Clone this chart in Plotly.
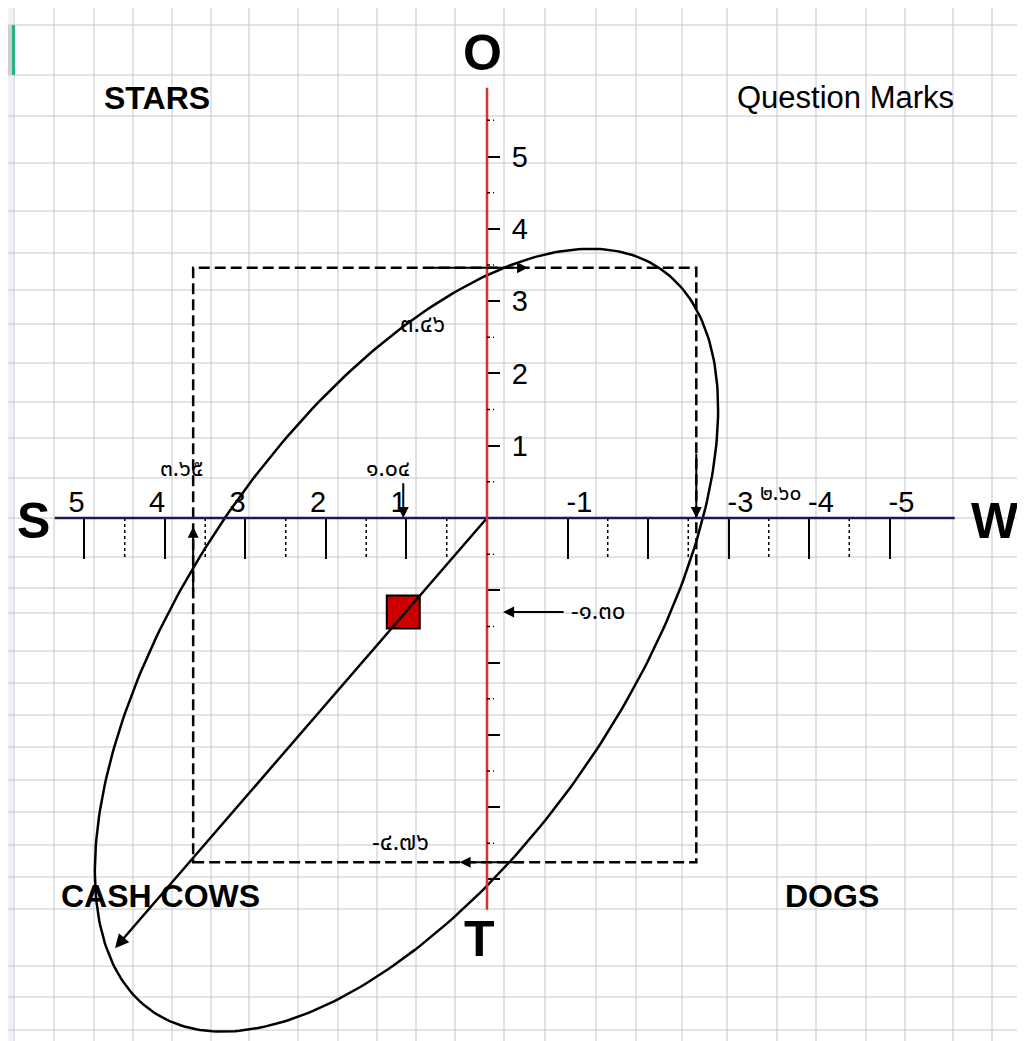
import numpy as np
import plotly.graph_objects as go

# scores: S/W along the horizontal axis, O/T along the vertical
s_score = 3.65
w_score = 2.60
o_score = 3.46
t_score = 4.76
pos_x = 1.04
pos_y = -1.30

x_ticks_left = [5, 4, 3, 2, 1]
x_ticks_right = [-1, -2, -3, -4, -5]
x_text_right = ["-1", "", "-3", "-4", "-5"]
y_ticks = [5, 4, 3, 2, 1, -1, -2, -3, -4, -5]
y_tick_text = ["5", "4", "3", "2", "1", "", "", "", "", ""]
x_minor = [4.5, 3.5, 2.5, 1.5, 0.5, -1.5, -2.5, -3.5, -4.5]
y_minor = [5.5, 4.5, 3.5, 2.5, 1.5, 0.5, -0.5, -1.5, -2.5, -3.5, -4.5]

quadrants = ["STARS", "Question Marks", "CASH COWS", "DOGS"]

# tilted ellipse round the position (centre, half-axis vectors)
ell_c = (1.0, -1.69)
ell_u = (-3.15, 5.14)
ell_v = (2.25, 1.70)

# the page body adds an 8px margin, so the figure is 8px smaller
OFF = 8
W, H = 1025 - OFF, 1041 - OFF
x_range = [5.95, -6.683]
y_range = [-7.234, 7.054]
FONT = "Liberation Sans, Arial, sans-serif"
THAI_FONT = "Tahoma, Noto Sans Thai, Loma, Garuda, DejaVu Sans, sans-serif"

# spreadsheet grid behind the drawing (page pixels)
grid_cols = [14, 54, 94, 133, 172, 211, 249, 298, 338, 377, 416, 455, 504, 545,
             596, 636, 682, 727, 777, 816, 866, 905, 953, 992]
grid_rows = [25, 75, 116, 163, 211, 253, 290, 324, 363, 402, 438, 478, 518, 557,
             588, 613, 651, 683, 715, 747, 780, 812, 845, 877, 909, 966, 997, 1030]

THAI = str.maketrans("0123456789", "๐๑๒๓๔๕๖๗๘๙")


def thai(v):
    return f"{v:.2f}".translate(THAI)


def px(c):
    return (c - OFF) / W


def py(r):
    return 1 - (r - OFF) / H


shapes = []
shapes.append(dict(type="rect", xref="paper", yref="paper", x0=0, x1=px(13), y0=0, y1=1,
                   fillcolor="#eef2f7", line_width=0, layer="below"))
for c in grid_cols:
    shapes.append(dict(type="line", xref="paper", yref="paper", x0=px(c), x1=px(c), y0=0, y1=1,
                       line=dict(color="#c3c8cf", width=1), layer="below"))
for r in grid_rows:
    shapes.append(dict(type="line", xref="paper", yref="paper", x0=0, x1=1, y0=py(r), y1=py(r),
                       line=dict(color="#c3c8cf", width=1), layer="below"))
shapes.append(dict(type="rect", xref="paper", yref="paper", x0=0, x1=px(12), y0=py(75), y1=py(25),
                   fillcolor="#cfcfcf", line_width=0, layer="below"))
shapes.append(dict(type="line", xref="paper", yref="paper", x0=px(13.5), x1=px(13.5), y0=py(75), y1=py(25),
                   line=dict(color="#22b583", width=3), layer="below"))

# dashed box spanning S, W, O, T
shapes.append(dict(type="rect", x0=s_score, x1=-w_score, y0=-t_score, y1=o_score,
                   line=dict(color="black", width=2.5, dash="11px,5px")))

# axis lines
shapes.append(dict(type="line", x0=5.37, x1=-5.81, y0=0, y1=0, line=dict(color="#1c1856", width=2.5)))
shapes.append(dict(type="line", x0=0, x1=0, y0=-5.42, y1=5.95, line=dict(color="#d93030", width=2.5)))

# dotted half-unit ticks
for v in x_minor:
    shapes.append(dict(type="line", xref="x", yref="y", ysizemode="pixel", yanchor=0,
                       x0=v, x1=v, y0=0, y1=-40, line=dict(color="black", width=1.5, dash="dot")))
for v in y_minor:
    shapes.append(dict(type="line", xref="x", yref="y", xsizemode="pixel", xanchor=0,
                       x0=0, x1=7, y0=v, y1=v, line=dict(color="black", width=1.5, dash="dot")))

t = np.linspace(0, 2 * np.pi, 361)
ex = ell_c[0] + ell_u[0] * np.cos(t) + ell_v[0] * np.sin(t)
ey = ell_c[1] + ell_u[1] * np.cos(t) + ell_v[1] * np.sin(t)

fig = go.Figure()
fig.add_trace(go.Scatter(x=ex, y=ey, mode="lines", line=dict(color="black", width=2.5),
                         hoverinfo="skip"))
fig.add_trace(go.Scatter(x=[pos_x], y=[pos_y], mode="markers",
                         marker=dict(symbol="square", size=33, color="#cc0000",
                                     line=dict(color="black", width=2)),
                         hoverinfo="skip"))
# carries the second x axis (labels on the W side)
fig.add_trace(go.Scatter(x=[pos_x], y=[pos_y], xaxis="x2", mode="markers",
                         marker=dict(opacity=0), hoverinfo="skip"))


def arrow(x0, y0, x1, y1, width=2):
    return dict(x=x1, y=y1, ax=x0, ay=y0, xref="x", yref="y", axref="x", ayref="y",
                text="", showarrow=True, arrowhead=2, arrowsize=1.1, arrowwidth=width,
                arrowcolor="black")


def label(txt, x, y, size, bold=False, xanchor="center", family=FONT):
    return dict(x=x, y=y, xref="x", yref="y", text=f"<b>{txt}</b>" if bold else txt,
                showarrow=False, xanchor=xanchor, yanchor="middle",
                font=dict(family=family, size=size, color="black"))


annotations = [
    arrow(0, 0, 4.62, -5.95, width=2.5),
    arrow(s_score, -1.13, s_score, -0.12),
    arrow(pos_x, 0.50, pos_x, 0.0),
    arrow(0.71, o_score, -0.51, o_score),
    arrow(-w_score, 0.91, -w_score, 0.0),
    arrow(-0.97, pos_y, -0.20, pos_y),
    arrow(-0.47, -t_score, 0.34, -t_score),
    label(thai(s_score), 3.79, 0.68, 23, family=THAI_FONT),
    label(thai(pos_x), 1.23, 0.68, 23, family=THAI_FONT),
    label(thai(o_score), 0.80, 2.67, 24, family=THAI_FONT),
    label(thai(w_score), -3.65, 0.34, 21, family=THAI_FONT),
    label(thai(pos_y), -1.02, pos_y, 24, xanchor="left", family=THAI_FONT),
    label(thai(-t_score), 1.08, -4.50, 24, family=THAI_FONT),
    label("O", 0.06, 6.43, 50, bold=True),
    label("S", 5.63, -0.04, 50, bold=True),
    label("W", -6.31, -0.04, 50, bold=True),
    label("T", 0.09, -5.82, 50, bold=True),
    label(quadrants[0], 4.10, 5.81, 32, bold=True),
    label(quadrants[1], -4.45, 5.81, 31),
    label(quadrants[2], 4.05, -5.23, 32, bold=True),
    label(quadrants[3], -4.29, -5.23, 32, bold=True),
]

x_pos = (0 - y_range[0]) / (y_range[1] - y_range[0])
y_pos = (x_range[0] - 0) / (x_range[0] - x_range[1])

x_common = dict(range=x_range, showgrid=False, zeroline=False, showline=False,
                tickmode="array", ticks="inside", ticklen=40, tickwidth=1.5, tickcolor="black",
                side="top", anchor="free", position=x_pos,
                tickfont=dict(family=FONT, size=29, color="black"), fixedrange=True)

# reversed axis: a positive shift moves labels to the left on screen
fig.update_layout(
    width=W, height=H,
    margin=dict(l=0, r=0, t=0, b=0),
    paper_bgcolor="white",
    plot_bgcolor="rgba(0,0,0,0)",
    showlegend=False,
    hovermode=False,
    shapes=shapes,
    annotations=annotations,
    xaxis=dict(x_common, tickvals=x_ticks_left, ticktext=[str(v) for v in x_ticks_left],
               ticklabelshift=8),
    xaxis2=dict(x_common, tickvals=x_ticks_right, ticktext=x_text_right,
                overlaying="x", ticklabelshift=-12),
    yaxis=dict(range=y_range, showgrid=False, zeroline=False, showline=False,
               tickmode="array", tickvals=y_ticks, ticktext=y_tick_text,
               ticks="outside", ticklen=12, tickwidth=1.5, tickcolor="black",
               side="right", anchor="free", position=y_pos, ticklabelstandoff=6,
               tickfont=dict(family=FONT, size=29, color="black"), fixedrange=True),
)

fig.write_html("out.html")
